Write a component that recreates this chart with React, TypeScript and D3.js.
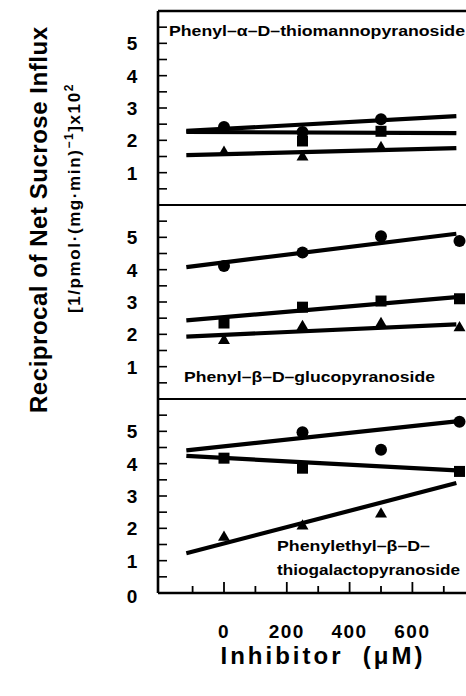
import React from "react";
import * as d3 from "d3";

// ---- data ----
const X_DOSES = [0, 250, 500, 750];
const X_TICK_LABELS = [0, 200, 400, 600];
const X_MINOR_TICKS = [-100, 100, 300, 500, 700];
const FIT_X = [-120, 740];

const PANEL_NAMES = [
  ["Phenyl–α–D–thiomannopyranoside"],
  ["Phenyl–β–D–glucopyranoside"],
  ["Phenylethyl–β–D–", "thiogalactopyranoside"],
];

// top panel: Phenyl-α-D-thiomannopyranoside
const TOP_CIRCLES = [2.41, 2.26, 2.65, null];
const TOP_SQUARES = [null, 1.98, 2.28, null];
const TOP_TRIANGLES = [1.63, 1.48, 1.77, null];
const TOP_FIT_CIRCLES = [2.29, 2.75];
const TOP_FIT_SQUARES = [2.26, 2.22];
const TOP_FIT_TRIANGLES = [1.54, 1.76];

// middle panel: Phenyl-β-D-glucopyranoside
const MID_CIRCLES = [4.11, 4.53, 5.03, 4.89];
const MID_SQUARES = [2.35, 2.84, 3.03, 3.1];
const MID_TRIANGLES = [1.81, 2.24, 2.33, 2.2];
const MID_FIT_CIRCLES = [4.08, 5.11];
const MID_FIT_SQUARES = [2.43, 3.15];
const MID_FIT_TRIANGLES = [1.93, 2.31];

// bottom panel: Phenylethyl-β-D-thiogalactopyranoside
const BOT_CIRCLES = [null, 4.97, 4.43, 5.3];
const BOT_SQUARES = [4.17, 3.86, null, 3.76];
const BOT_TRIANGLES = [1.72, 2.07, 2.44, null];
const BOT_FIT_CIRCLES = [4.41, 5.31];
const BOT_FIT_SQUARES = [4.24, 3.79];
const BOT_FIT_TRIANGLES = [1.23, 3.4];

const Y_LABELS_TOP = [1, 2, 3, 4, 5];
const Y_LABELS_BOTTOM = [0, 1, 2, 3, 4, 5];
const Y_TICKS = [0.5, 1, 1.5, 2, 2.5, 3, 3.5, 4, 4.5, 5, 5.5];

// ---- layout ----
const W = 466;
const H = 696;
const LEFT = 158;
const RIGHT = 466;
const TOP = 11;
const PANEL_H = 194;

const x = d3.scaleLinear().domain([0, 600]).range([224, 412.4]);

type Panel = {
  names: string[];
  circles: (number | null)[];
  squares: (number | null)[];
  triangles: (number | null)[];
  fits: { shape: string; v: number[] }[];
  labels: number[];
};

const panels: Panel[] = [
  {
    names: PANEL_NAMES[0],
    circles: TOP_CIRCLES,
    squares: TOP_SQUARES,
    triangles: TOP_TRIANGLES,
    fits: [
      { shape: "c", v: TOP_FIT_CIRCLES },
      { shape: "s", v: TOP_FIT_SQUARES },
      { shape: "t", v: TOP_FIT_TRIANGLES },
    ],
    labels: Y_LABELS_TOP,
  },
  {
    names: PANEL_NAMES[1],
    circles: MID_CIRCLES,
    squares: MID_SQUARES,
    triangles: MID_TRIANGLES,
    fits: [
      { shape: "c", v: MID_FIT_CIRCLES },
      { shape: "s", v: MID_FIT_SQUARES },
      { shape: "t", v: MID_FIT_TRIANGLES },
    ],
    labels: Y_LABELS_TOP,
  },
  {
    names: PANEL_NAMES[2],
    circles: BOT_CIRCLES,
    squares: BOT_SQUARES,
    triangles: BOT_TRIANGLES,
    fits: [
      { shape: "c", v: BOT_FIT_CIRCLES },
      { shape: "s", v: BOT_FIT_SQUARES },
      { shape: "t", v: BOT_FIT_TRIANGLES },
    ],
    labels: Y_LABELS_BOTTOM,
  },
];

const FONT = "'Liberation Sans', Arial, Helvetica, sans-serif";
const triPath = d3.symbol(d3.symbolTriangle, 62)() as string;

// label placement per panel (pixel positions, not data)
const NAME_POS = [
  [{ x: 169, y: 36, len: 296 }],
  [{ x: 184, y: 382, len: 251 }],
  [
    { x: 277, y: 551, len: 153 },
    { x: 277, y: 575, len: 183 },
  ],
];

export default function App() {
  const bottom = TOP + PANEL_H * 3;
  const line = d3
    .line<[number, number]>()
    .x((d) => d[0])
    .y((d) => d[1]);

  return (
    <svg
      width={W}
      height={H}
      style={{ position: "absolute", left: 0, top: 0, background: "#fff" }}
      fontFamily={FONT}
    >
      <rect x={0} y={0} width={W} height={H} fill="#fff" />
      {panels.map((p, i) => {
        const y = d3
          .scaleLinear()
          .domain([0, 6])
          .range([TOP + PANEL_H * (i + 1), TOP + PANEL_H * i]);
        return (
          <g key={i}>
            {/* y ticks */}
            {Y_TICKS.map((t) => (
              <line
                key={t}
                x1={LEFT}
                x2={LEFT + 9}
                y1={y(t)}
                y2={y(t)}
                stroke="#000"
                strokeWidth={1.6}
              />
            ))}
            {p.labels.map((t) => (
              <text
                key={t}
                x={132}
                y={y(t) + 7 + (t === 0 ? 3 : 0)}
                textAnchor="middle"
                fontSize={19}
                fontWeight="bold"
              >
                {t}
              </text>
            ))}
            {/* fit lines */}
            {p.fits.map((f, k) => (
              <path
                key={k}
                d={
                  line([
                    [x(FIT_X[0]), y(f.v[0])],
                    [x(FIT_X[1]), y(f.v[1])],
                  ]) as string
                }
                stroke="#000"
                strokeWidth={4.2}
                fill="none"
              />
            ))}
            {/* markers */}
            {p.circles.map((v, k) =>
              v == null ? null : (
                <circle key={"c" + k} cx={x(X_DOSES[k])} cy={y(v)} r={6} fill="#000" />
              )
            )}
            {p.squares.map((v, k) =>
              v == null ? null : (
                <rect
                  key={"s" + k}
                  x={x(X_DOSES[k]) - 5.5}
                  y={y(v) - 5.5}
                  width={11}
                  height={11}
                  fill="#000"
                />
              )
            )}
            {p.triangles.map((v, k) =>
              v == null ? null : (
                <path
                  key={"t" + k}
                  d={triPath}
                  transform={`translate(${x(X_DOSES[k])},${y(v)})`}
                  fill="#000"
                />
              )
            )}
            {/* panel name */}
            {p.names.map((n, k) => (
              <text
                key={k}
                x={NAME_POS[i][k].x}
                y={NAME_POS[i][k].y}
                fontSize={15.5}
                fontWeight="bold"
                textLength={NAME_POS[i][k].len}
                lengthAdjust="spacingAndGlyphs"
              >
                {n}
              </text>
            ))}
            {/* divider / frame bottom */}
            <line
              x1={LEFT}
              x2={RIGHT}
              y1={TOP + PANEL_H * (i + 1)}
              y2={TOP + PANEL_H * (i + 1)}
              stroke="#000"
              strokeWidth={i === 2 ? 2.6 : 1.8}
            />
          </g>
        );
      })}
      {/* frame */}
      <line x1={LEFT} x2={RIGHT} y1={TOP} y2={TOP} stroke="#000" strokeWidth={2.4} />
      <line x1={LEFT} x2={LEFT} y1={TOP} y2={bottom} stroke="#000" strokeWidth={2.6} />
      {/* x ticks */}
      {X_TICK_LABELS.map((t) => (
        <g key={t}>
          <line x1={x(t)} x2={x(t)} y1={bottom} y2={bottom - 11} stroke="#000" strokeWidth={1.8} />
          <text
            x={x(t)}
            y={638}
            textAnchor="middle"
            fontSize={19}
            fontWeight="bold"
            letterSpacing={1.5}
          >
            {t}
          </text>
        </g>
      ))}
      {X_MINOR_TICKS.map((t) => (
        <line key={t} x1={x(t)} x2={x(t)} y1={bottom} y2={bottom - 7} stroke="#000" strokeWidth={1.8} />
      ))}
      <text
        x={323}
        y={664}
        textAnchor="middle"
        fontSize={24}
        fontWeight="bold"
        letterSpacing={3}
        style={{ whiteSpace: "pre" }}
      >
        {"Inhibitor  (μM)"}
      </text>
      {/* y titles */}
      <text
        transform="translate(47,220) rotate(-90)"
        textAnchor="middle"
        fontSize={24}
        fontWeight="bold"
        textLength={386}
        lengthAdjust="spacing"
      >
        Reciprocal of Net Sucrose Influx
      </text>
      <text
        transform="translate(80,198) rotate(-90)"
        textAnchor="middle"
        fontSize={17}
        fontWeight="bold"
        letterSpacing={1.6}
      >
        [1/pmol·(mg·min)
        <tspan dy={-7} fontSize={12}>−1</tspan>
        <tspan dy={7}>]x10</tspan>
        <tspan dy={-7} fontSize={12}>2</tspan>
      </text>
    </svg>
  );
}
